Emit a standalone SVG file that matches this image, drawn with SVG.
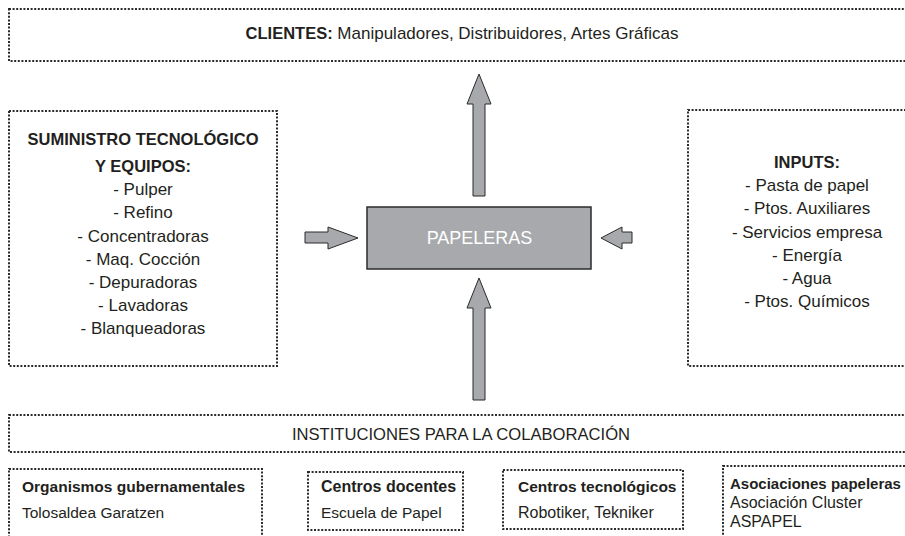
<svg xmlns="http://www.w3.org/2000/svg" width="905" height="536" viewBox="0 0 905 536">
<style>
.box{fill:none;stroke:#2b2b2b;stroke-width:2;stroke-dasharray:2 1.6}
.t{font-family:"Liberation Sans",Arial,sans-serif;font-size:17px;fill:#231f20}
.s{font-size:15.5px}
.c{text-anchor:middle}
.b{font-weight:bold}
.h{font-weight:bold;font-size:16.5px}
.arr{fill:#a7a9ac;stroke:#2b2b2b;stroke-width:1}
</style>
<rect width="905" height="536" fill="#fff"/>
<g id="clientes">
<rect class="box" x="9" y="9" width="910" height="52"/>
<text class="t c" x="462" y="39"><tspan class="h">CLIENTES:</tspan> Manipuladores, Distribuidores, Artes Gráficas</text>
</g>
<g id="suministro">
<rect class="box" x="9" y="111" width="268" height="255"/>
<text class="t c h" x="143" y="145">SUMINISTRO TECNOLÓGICO</text>
<text class="t c h" x="143" y="172">Y EQUIPOS:</text>
<text class="t c" x="143" y="195">- Pulper</text>
<text class="t c" x="143" y="218">- Refino</text>
<text class="t c" x="143" y="242">- Concentradoras</text>
<text class="t c" x="143" y="265">- Maq. Cocción</text>
<text class="t c" x="143" y="288">- Depuradoras</text>
<text class="t c" x="143" y="311">- Lavadoras</text>
<text class="t c" x="143" y="334">- Blanqueadoras</text>
</g>
<g id="inputs">
<rect class="box" x="688" y="110" width="230" height="256"/>
<text class="t c h" x="807" y="168">INPUTS:</text>
<text class="t c" x="807" y="191">- Pasta de papel</text>
<text class="t c" x="807" y="214">- Ptos. Auxiliares</text>
<text class="t c" x="807" y="238">- Servicios empresa</text>
<text class="t c" x="807" y="261">- Energía</text>
<text class="t c" x="807" y="284">- Agua</text>
<text class="t c" x="807" y="307">- Ptos. Químicos</text>
</g>
<g id="papeleras">
<rect x="367" y="207" width="224" height="62" fill="#a7a9ac" stroke="#2b2b2b" stroke-width="1.5"/>
<text class="t c" x="479.5" y="244" style="fill:#fff;font-size:18px">PAPELERAS</text>
</g>
<g id="instituciones">
<rect class="box" x="9" y="415" width="910" height="37"/>
<text class="t c" x="461" y="440" style="font-size:16.6px">INSTITUCIONES PARA LA COLABORACIÓN</text>
</g>
<g id="organismos">
<rect class="box" x="9" y="469" width="253" height="80"/>
<text class="t s b" x="22" y="492">Organismos gubernamentales</text>
<text class="t s" x="22" y="518">Tolosaldea Garatzen</text>
</g>
<g id="docentes">
<rect class="box" x="308" y="472" width="155" height="58"/>
<text class="t s b" x="321" y="492" style="font-size:16px">Centros docentes</text>
<text class="t s" x="321" y="518">Escuela de Papel</text>
</g>
<g id="tecnologicos">
<rect class="box" x="503" y="470" width="180" height="59"/>
<text class="t s b" x="518" y="492">Centros tecnológicos</text>
<text class="t s" x="518" y="518" style="font-size:16px">Robotiker, Tekniker</text>
</g>
<g id="asociaciones">
<rect class="box" x="723" y="466" width="200" height="90"/>
<text class="t s b" x="730" y="489" style="font-size:15px">Asociaciones papeleras</text>
<text class="t s" x="730" y="508" style="font-size:16px">Asociación Cluster</text>
<text class="t s" x="730" y="527" style="font-size:16px">ASPAPEL</text>
</g>
<g id="connectors">
<polygon class="arr" points="479,74 491,104 485,104 485,196 473,196 473,104 467,104"/>
<polygon class="arr" points="479,278 491,308 485,308 485,400 473,400 473,308 467,308"/>
<polygon class="arr" points="358,238 328,227 328,232 305,232 305,243 328,243 328,249"/>
<polygon class="arr" points="601,238 622,227 622,232 632,232 632,243 622,243 622,249"/>
</g>
</svg>
